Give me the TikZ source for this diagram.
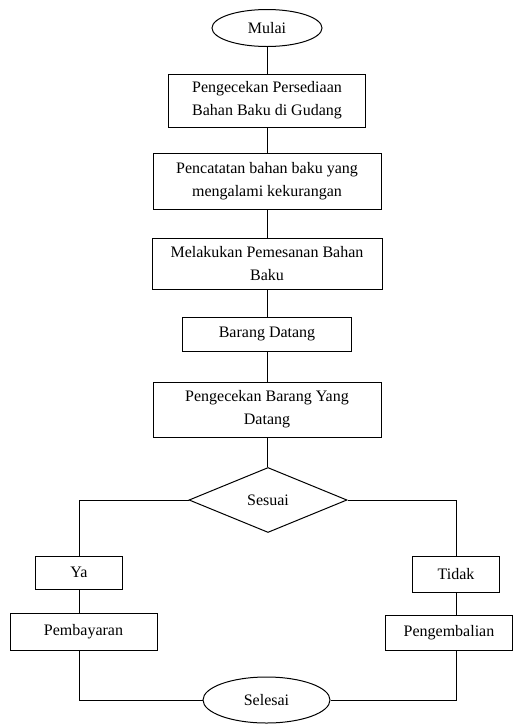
\documentclass[tikz,border=0pt]{standalone}
\usepackage{fontspec}
\setmainfont{Liberation Serif}
\newfontfamily\serfont{Liberation Serif}
\usetikzlibrary{shapes.geometric}
\begin{document}
\begin{tikzpicture}[x=1pt,y=-1pt,
  every node/.style={font=\serfont\fontsize{16}{23}\selectfont, align=center, inner sep=0pt},
  proc/.style={draw, line width=1pt, rectangle},
  term/.style={draw, line width=1pt, ellipse},
  dec/.style={draw, line width=1pt, diamond, aspect=2.43},
  conn/.style={line width=1pt}]
\useasboundingbox (0,0) rectangle (513,724);
\node[term, minimum width=110pt, minimum height=37pt] (mulai) at (267,28) {Mulai};
\node[proc, minimum width=197pt, minimum height=53pt] (b1) at (267,100.5) {Pengecekan Persediaan\\Bahan Baku di Gudang};
\node[proc, minimum width=228pt, minimum height=56pt] (b2) at (267,181) {Pencatatan bahan baku yang\\mengalami kekurangan};
\node[proc, minimum width=230pt, minimum height=51pt] (b3) at (267,263.5) {Melakukan Pemesanan Bahan\\Baku};
\node[proc, minimum width=169pt, minimum height=34pt] (b4) at (267,334) {Barang Datang};
\node[proc, minimum width=228pt, minimum height=55pt] (b5) at (267,409.5) {Pengecekan Barang Yang\\Datang};
\node[dec, minimum width=158pt, minimum height=65pt] (dia) at (268,500) {Sesuai};
\node[proc, minimum width=87pt, minimum height=33pt] (ya) at (79,572.5) {Ya};
\node[proc, minimum width=147pt, minimum height=37pt] (pemb) at (83.5,631.5) {Pembayaran};
\node[proc, minimum width=87pt, minimum height=36pt] (tidak) at (456,574) {Tidak};
\node[proc, minimum width=127pt, minimum height=35pt] (peng) at (449,632.5) {Pengembalian};
\node[term, minimum width=127pt, minimum height=46pt] (selesai) at (266.5,700) {Selesai};
\draw[conn] (mulai) -- (b1);
\draw[conn] (b1) -- (b2);
\draw[conn] (b2) -- (b3);
\draw[conn] (b3) -- (b4);
\draw[conn] (b4) -- (b5);
\draw[conn] (b5) -- (dia.north -| b5);
\draw[conn] (dia.west) -| (ya.north);
\draw[conn] (dia.east) -| (tidak.north);
\draw[conn] (ya.south) -- (ya.south |- pemb.north);
\draw[conn] (tidak.south) -- (tidak.south |- peng.north);
\draw[conn] (ya.south |- pemb.south) |- (selesai.west);
\draw[conn] (tidak.south |- peng.south) |- (selesai.east);
\end{tikzpicture}
\end{document}
